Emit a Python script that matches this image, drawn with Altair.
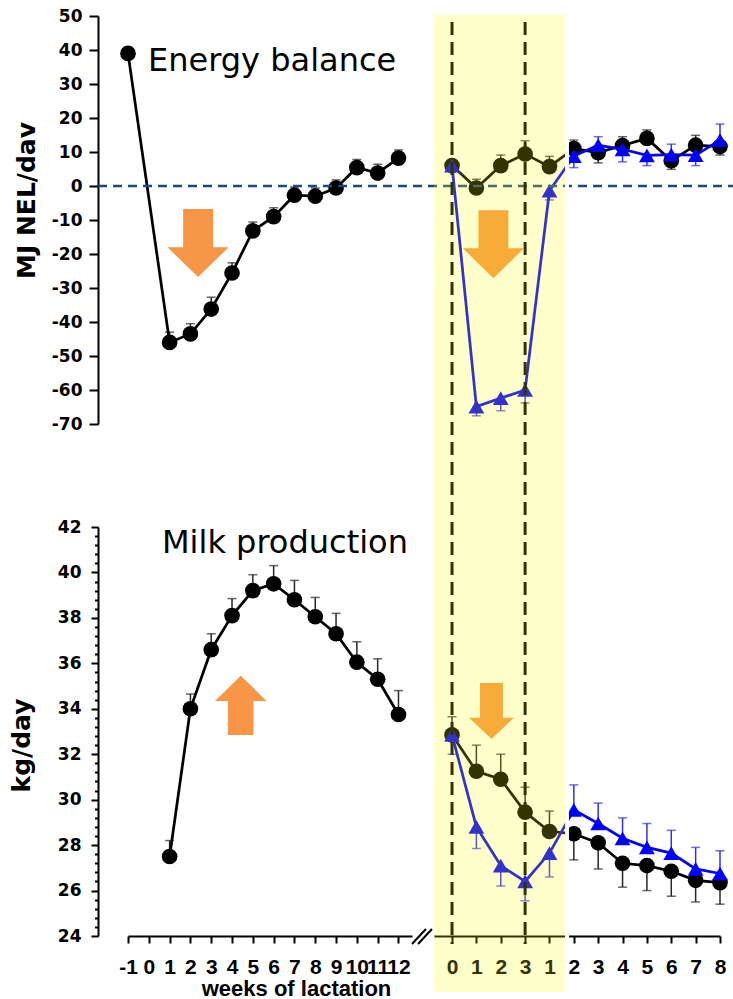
import json
import altair as alt
import pandas as pd

# ---------------- data ----------------
# early lactation (first segment of the broken axis)
weeks_eb = [-1, 1, 2, 3, 4, 5, 6, 7, 8, 9, 10, 11, 12]
eb_early = [39.0, -46.0, -43.5, -36.2, -25.6, -13.2, -9.0, -2.7, -3.0, -0.6, 5.4, 3.8, 8.2]
eb_early_err = [0, 3.0, 3.0, 3.5, 3.0, 2.6, 2.6, 2.4, 2.4, 2.4, 2.4, 2.6, 2.4]

weeks_milk = [1, 2, 3, 4, 5, 6, 7, 8, 9, 10, 11, 12]
milk_early = [27.5, 34.0, 36.6, 38.1, 39.2, 39.5, 38.8, 38.05, 37.3, 36.05, 35.3, 33.75]
milk_early_err = [0.7, 0.65, 0.7, 0.75, 0.7, 0.8, 0.85, 0.85, 0.9, 0.9, 0.9, 1.05]

# trial period (second segment): positions and their tick labels
trial_pos = list(range(12))
trial_labels = ["0", "1", "2", "3", "1", "2", "3", "4", "5", "6", "7", "8"]

eb_ctrl = [6.0, -0.6, 6.0, 9.4, 5.7, 11.0, 9.8, 11.9, 14.0, 7.4, 12.0, 11.6]
eb_ctrl_err = [0, 2.6, 3.1, 3.9, 3.0, 2.5, -3.0, 2.6, 2.5, -2.5, 2.9, -2.5]
eb_trt = [6.0, -64.9, -62.4, -60.0, -1.4, 8.8, 12.0, 10.8, 9.0, 9.2, 9.1, 13.5]
eb_trt_err = [0, -2.7, -3.7, -3.8, -2.7, -3.4, 2.5, -3.7, -3.0, 3.1, -3.1, 4.7]

milk_ctrl = [32.85, 31.25, 30.9, 29.45, 28.6, 28.5, 28.1, 27.2, 27.1, 26.85, 26.45, 26.35]
milk_ctrl_err = [0.8, 1.15, 1.1, 1.1, 0.9, -1.15, -1.15, -1.05, -1.1, -1.1, -0.95, -0.95]
milk_trt = [32.85, 28.8, 27.1, 26.4, 27.65, 29.55, 28.95, 28.3, 27.9, 27.65, 26.95, 26.75]
milk_trt_err = [-0.85, -0.95, -0.9, -0.85, -1.05, 1.1, 0.9, 0.9, 1.05, 1.0, 0.95, 1.0]

# ---------------- styling ----------------
BLACK = "#000000"
BLUE = "#0000FF"
ERR_BLACK = "#262626"
ERR_BLUE = "#3030F0"
ORANGE = "#F79646"
ZERO_LINE = "#1F497D"

X1 = alt.Scale(domain=[-1, 12.65], range=[30, 314], nice=False, zero=False)
X2 = alt.Scale(domain=[-0.74, 11], range=[336, 622], nice=False, zero=False)
YT = alt.Scale(domain=[-70, 50], range=[424, 16], nice=False, zero=False)
YB = alt.Scale(domain=[24, 42], range=[936, 527], nice=False, zero=False)

common_axis = dict(domainColor="black", domainWidth=2, tickColor="black", tickWidth=2,
                   labelColor="black", labelOverlap=False, labelFlush=False, grid=False,
                   titleColor="black")

AX_YT = alt.Axis(orient="left", values=list(range(-70, 51, 10)), labelExpr="'' + datum.value",
                 tickSize=9,
                 labelFont="DejaVu Sans", labelFontWeight="bold", labelFontSize=17, labelPadding=7,
                 title="MJ NEL/dav", titleFont="DejaVu Sans", titleFontWeight="bold", titleFontSize=25,
                 titleAngle=270, titleAlign="center", titleBaseline="alphabetic", titleX=-64, titleY=200,
                 **common_axis)

minor_vals = [round(24 + 0.4 * i, 1) for i in range(46)]
AX_YB = alt.Axis(orient="left", values=minor_vals,
                 labelExpr="datum.value % 2 === 0 ? '' + datum.value : ''",
                 tickSize={"condition": {"test": "datum.value % 2 === 0", "value": 7}, "value": 3.5},
                 labelFont="DejaVu Sans", labelFontWeight="bold", labelFontSize=17, labelPadding=10,
                 title="kg/day", titleFont="DejaVu Sans", titleFontWeight="bold", titleFontSize=25,
                 titleAngle=270, titleAlign="center", titleBaseline="alphabetic", titleX=-69, titleY=745,
                 **common_axis)

AX_X1 = alt.Axis(orient="bottom", values=list(range(-1, 13)), labelExpr="'' + datum.value",
                 tickSize=7,
                 labelFont="Liberation Sans", labelFontWeight="bold", labelFontSize=21, labelPadding=13,
                 title="weeks of lactation", titleFont="Liberation Sans", titleFontWeight="bold",
                 titleFontSize=22, titleAlign="center", titleBaseline="alphabetic", titleX=198, titleY=59,
                 **common_axis)

AX_X2 = alt.Axis(orient="bottom", values=trial_pos, tickSize=7,
                 labelExpr=json.dumps(trial_labels) + "[round(datum.value)]",
                 labelFont="Liberation Sans", labelFontWeight="bold", labelFontSize=21, labelPadding=13,
                 title="", **common_axis)


def frame(xs, ys, errs):
    df = pd.DataFrame({"x": xs, "y": ys, "e": errs})
    df["y2"] = df["y"] + df["e"]
    return df


def xenc(xs, axis=None):
    return alt.X("x:Q", scale=xs, axis=axis)


def yenc(field, ys, axis=None):
    return alt.Y(field + ":Q", scale=ys, axis=axis)


def errbars(df, xs, ys, color):
    d = df[df["e"] != 0]
    rule = alt.Chart(d).mark_rule(color=color, strokeWidth=1.5).encode(
        x=xenc(xs), y=yenc("y", ys), y2="y2:Q")
    cap = alt.Chart(d).mark_tick(color=color, orient="horizontal", size=9, thickness=1.5).encode(
        x=xenc(xs), y=yenc("y2", ys))
    return [rule, cap]


def line(df, xs, ys, color, xaxis=None, yaxis=None):
    return alt.Chart(df).mark_line(color=color, strokeWidth=2.75).encode(
        x=xenc(xs, xaxis), y=yenc("y", ys, yaxis))


def points(df, xs, ys, color, shape, size):
    return alt.Chart(df).mark_point(shape=shape, size=size, filled=True, color=color,
                                    opacity=1, strokeWidth=0).encode(x=xenc(xs), y=yenc("y", ys))


eb1 = frame(weeks_eb, eb_early, eb_early_err)
mk1 = frame(weeks_milk, milk_early, milk_early_err)
ebc = frame(trial_pos, eb_ctrl, eb_ctrl_err)
ebt = frame(trial_pos, eb_trt, eb_trt_err)
mkc = frame(trial_pos, milk_ctrl, milk_ctrl_err)
mkt = frame(trial_pos, milk_trt, milk_trt_err)

layers = []
# control / early (black) series
layers += errbars(eb1, X1, YT, ERR_BLACK)
layers += errbars(mk1, X1, YB, ERR_BLACK)
layers += errbars(ebc, X2, YT, ERR_BLACK)
layers += errbars(mkc, X2, YB, ERR_BLACK)
layers.append(line(eb1, X1, YT, BLACK, yaxis=AX_YT))
layers.append(line(mk1, X1, YB, BLACK, xaxis=AX_X1, yaxis=AX_YB))
layers.append(line(ebc, X2, YT, BLACK))
layers.append(line(mkc, X2, YB, BLACK, xaxis=AX_X2))
for df, xs, ys in [(eb1, X1, YT), (mk1, X1, YB), (ebc, X2, YT), (mkc, X2, YB)]:
    layers.append(points(df, xs, ys, BLACK, "circle", 245))
# treatment (blue) series
layers += errbars(ebt, X2, YT, ERR_BLUE)
layers += errbars(mkt, X2, YB, ERR_BLUE)
layers.append(line(ebt, X2, YT, BLUE))
layers.append(line(mkt, X2, YB, BLUE))
layers.append(points(ebt, X2, YT, BLUE, "triangle-up", 250))
layers.append(points(mkt, X2, YB, BLUE, "triangle-up", 250))

# arrows (annotation positions in data units)
DOWN_A = "M -0.44 -1 L 0.44 -1 L 0.44 0.12 L 0.9 0.12 L 0 1 L -0.9 0.12 L -0.44 0.12 Z"
UP_A = "M 0 -1 L 0.87 -0.15 L 0.43 -0.15 L 0.43 1 L -0.43 1 L -0.43 -0.15 L -0.87 -0.15 Z"
DOWN_B = "M -0.41 -1 L 0.41 -1 L 0.41 0.24 L 0.8 0.24 L 0 1 L -0.8 0.24 L -0.41 0.24 Z"
arrows = [
    (2.37, -16.8, X1, YT, DOWN_A, 4624),
    (1.70, -17.1, X2, YT, DOWN_A, 4624),
    (4.42, 34.15, X1, YB, UP_A, 3516),
    (1.62, 33.9, X2, YB, DOWN_B, 3136),
]
for ax, ay, xs, ys, shp, sz in arrows:
    layers.append(alt.Chart(pd.DataFrame({"x": [ax], "y": [ay]})).mark_point(
        shape=shp, size=sz, filled=True, color=ORANGE, opacity=1, strokeWidth=0).encode(
        x=xenc(xs), y=yenc("y", ys)))

# zero line of energy balance
layers.append(alt.Chart(pd.DataFrame({"y": [0]})).mark_rule(
    color=ZERO_LINE, strokeWidth=2.5, strokeDash=[9, 6]).encode(
    y=yenc("y", YT), x=alt.value(0), x2=alt.value(635)))

# vertical dashed lines at trial weeks 0 and 3
layers.append(alt.Chart(pd.DataFrame({"x": [0, 3]})).mark_rule(
    color="black", strokeWidth=3, strokeDash=[13, 7]).encode(
    x=xenc(X2), y=alt.value(22), y2=alt.value(944)))

# axis break marks
layers.append(alt.Chart(pd.DataFrame({"x": [12.65, 12.94], "x2": [13.32, 13.61],
                                      "y": [23.65, 23.65], "y2": [24.31, 24.31]})).mark_rule(
    color="black", strokeWidth=2).encode(x=xenc(X1), x2="x2:Q", y=yenc("y", YB), y2="y2:Q"))

# highlighted trial period (translucent overlay) and white separator
layers.append(alt.Chart(pd.DataFrame({"x": [-0.74], "x2": [4.64]})).mark_rect(
    color="#FFFF00", opacity=0.2).encode(x=xenc(X2), x2="x2:Q", y=alt.value(15), y2=alt.value(992)))
layers.append(alt.Chart(pd.DataFrame({"x": [4.64], "x2": [4.80]})).mark_rect(
    color="white", opacity=1).encode(x=xenc(X2), x2="x2:Q", y=alt.value(15), y2=alt.value(992)))

# panel titles
layers.append(alt.Chart(pd.DataFrame({"t": ["Energy balance"]})).mark_text(
    font="DejaVu Sans", fontSize=32, align="left", baseline="alphabetic", color="black").encode(
    text="t:N", x=alt.value(50), y=alt.value(71)))
layers.append(alt.Chart(pd.DataFrame({"t": ["Milk production"]})).mark_text(
    font="DejaVu Sans", fontSize=32, align="left", baseline="alphabetic", color="black").encode(
    text="t:N", x=alt.value(64), y=alt.value(553)))

chart = alt.layer(*layers).resolve_scale(x="independent", y="independent").properties(
    width=635, height=936,
    padding={"left": 98, "top": 0, "right": 0, "bottom": 63},
    autosize=alt.AutoSizeParams(type="none"),
).configure_view(stroke=None).configure_axis(grid=False)

chart.save("out.html", embed_options={"renderer": "svg", "actions": False})
